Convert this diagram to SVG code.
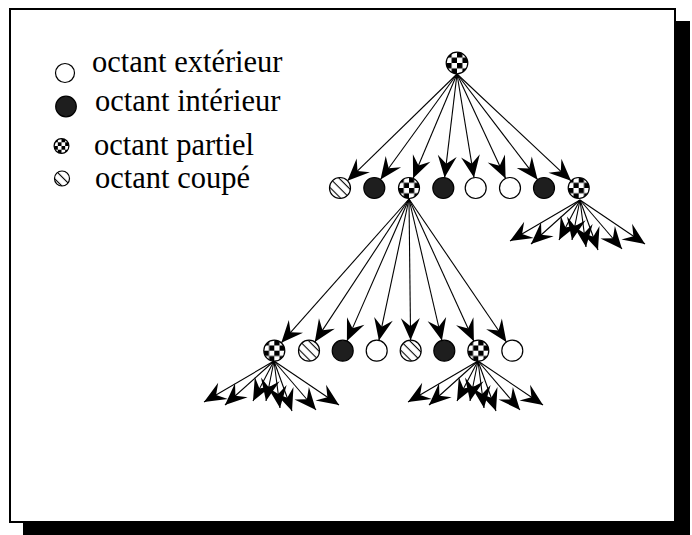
<svg xmlns="http://www.w3.org/2000/svg" width="692" height="535" viewBox="0 0 692 535">
<style>
.lbl{font-family:"Liberation Serif","Times New Roman","DejaVu Serif",serif;font-size:30.5px;fill:#000}
.n{stroke:#000;stroke-width:1.2}
.wh{fill:#fff}
.bk{fill:#1e1e1e}
.ck{fill:url(#chk)}
.ht{fill:url(#hatch)}
#connectors line{stroke:#000;stroke-width:1.1;marker-end:url(#ah)}
</style>
<defs>
<pattern id="chk" patternUnits="objectBoundingBox" patternContentUnits="objectBoundingBox" width="0.5" height="0.5">
<rect width="0.5" height="0.5" fill="#fff"/>
<rect width="0.25" height="0.25" fill="#000"/>
<rect x="0.25" y="0.25" width="0.25" height="0.25" fill="#000"/>
</pattern>
<pattern id="hatch" patternUnits="userSpaceOnUse" width="6.5" height="6.5" patternTransform="rotate(-45)">
<rect width="6.5" height="6.5" fill="#fff"/>
<line x1="3.25" y1="0" x2="3.25" y2="6.5" stroke="#000" stroke-width="1.1"/>
</pattern>
<marker id="ah" markerUnits="userSpaceOnUse" viewBox="-23 -11 24 22" markerWidth="24" markerHeight="22" refX="0" refY="0" orient="auto">
<path d="M0,0 L-22,-9.5 L-14,0 L-22,9.5 Z" fill="#000"/>
</marker>
</defs>
<rect x="23" y="21" width="667" height="514" fill="#000"/>
<rect x="10" y="9" width="665" height="513" fill="#fff" stroke="#000" stroke-width="2"/>

<g id="legend">
<circle class="n wh" cx="65" cy="73" r="9.5"/>
<text class="lbl" x="92" y="72">octant extérieur</text>
<circle class="n bk" cx="66" cy="106.5" r="10.3"/>
<text class="lbl" x="95" y="111">octant intérieur</text>
<circle class="n ck" cx="61.5" cy="146" r="7.4"/>
<text class="lbl" x="94" y="155">octant partiel</text>
<circle class="n ht" cx="62" cy="178.5" r="7.5"/>
<text class="lbl" x="95" y="188">octant coupé</text>
</g>

<g id="connectors">
<line x1="457" y1="74" x2="347.5" y2="180.7"/>
<line x1="457" y1="74" x2="380.5" y2="179.5"/>
<line x1="457" y1="74" x2="413.1" y2="178.3"/>
<line x1="457" y1="74" x2="444.6" y2="177.6"/>
<line x1="457" y1="74" x2="474" y2="177.6"/>
<line x1="457" y1="74" x2="505.6" y2="178.5"/>
<line x1="457" y1="74" x2="537.6" y2="179.7"/>
<line x1="457" y1="74" x2="571" y2="180.8"/>

<line x1="409" y1="199" x2="281.3" y2="342.8"/>
<line x1="409" y1="199" x2="314.8" y2="341.9"/>
<line x1="409" y1="199" x2="346.9" y2="341.1"/>
<line x1="409" y1="199" x2="378.9" y2="340.4"/>
<line x1="409" y1="199" x2="410.6" y2="340.2"/>
<line x1="409" y1="199" x2="441.9" y2="340.5"/>
<line x1="409" y1="199" x2="473.9" y2="341.2"/>
<line x1="409" y1="199" x2="506.4" y2="342"/>

<g transform="translate(580,200)">
<line x1="0" y1="0" x2="-70" y2="41"/>
<line x1="0" y1="0" x2="-49" y2="44"/>
<line x1="0" y1="0" x2="-21" y2="40"/>
<line x1="0" y1="0" x2="-8" y2="40"/>
<line x1="0" y1="0" x2="6" y2="47"/>
<line x1="0" y1="0" x2="18" y2="50"/>
<line x1="0" y1="0" x2="42" y2="49"/>
<line x1="0" y1="0" x2="65" y2="44"/>
</g>
<g transform="translate(274,361)">
<line x1="0" y1="0" x2="-70" y2="41"/>
<line x1="0" y1="0" x2="-49" y2="44"/>
<line x1="0" y1="0" x2="-21" y2="40"/>
<line x1="0" y1="0" x2="-8" y2="40"/>
<line x1="0" y1="0" x2="6" y2="47"/>
<line x1="0" y1="0" x2="18" y2="50"/>
<line x1="0" y1="0" x2="42" y2="49"/>
<line x1="0" y1="0" x2="65" y2="44"/>
</g>
<g transform="translate(478,361)">
<line x1="0" y1="0" x2="-70" y2="41"/>
<line x1="0" y1="0" x2="-49" y2="44"/>
<line x1="0" y1="0" x2="-21" y2="40"/>
<line x1="0" y1="0" x2="-8" y2="40"/>
<line x1="0" y1="0" x2="6" y2="47"/>
<line x1="0" y1="0" x2="18" y2="50"/>
<line x1="0" y1="0" x2="42" y2="49"/>
<line x1="0" y1="0" x2="65" y2="44"/>
</g>
</g>

<g id="root"><circle class="n ck" cx="457" cy="63" r="10.8"/></g>

<g id="n1a"><circle class="n ht" cx="340" cy="188" r="10.5"/></g>
<g id="n1b"><circle class="n bk" cx="374.3" cy="188" r="10.5"/></g>
<g id="n1c"><circle class="n ck" cx="409" cy="188" r="10.5"/></g>
<g id="n1d"><circle class="n bk" cx="443.3" cy="188" r="10.5"/></g>
<g id="n1e"><circle class="n wh" cx="475.7" cy="188" r="10.5"/></g>
<g id="n1f"><circle class="n wh" cx="510" cy="188" r="10.5"/></g>
<g id="n1g"><circle class="n bk" cx="544" cy="188" r="10.5"/></g>
<g id="n1h"><circle class="n ck" cx="578.7" cy="188" r="10.5"/></g>

<g id="n2a"><circle class="n ck" cx="274.3" cy="350.7" r="10.5"/></g>
<g id="n2b"><circle class="n ht" cx="309" cy="350.7" r="10.5"/></g>
<g id="n2c"><circle class="n bk" cx="342.7" cy="350.7" r="10.5"/></g>
<g id="n2d"><circle class="n wh" cx="376.7" cy="350.7" r="10.5"/></g>
<g id="n2e"><circle class="n ht" cx="410.7" cy="350.7" r="10.5"/></g>
<g id="n2f"><circle class="n bk" cx="444.3" cy="350.7" r="10.5"/></g>
<g id="n2g"><circle class="n ck" cx="478.3" cy="350.7" r="10.5"/></g>
<g id="n2h"><circle class="n wh" cx="512.3" cy="350.7" r="10.5"/></g>
</svg>
